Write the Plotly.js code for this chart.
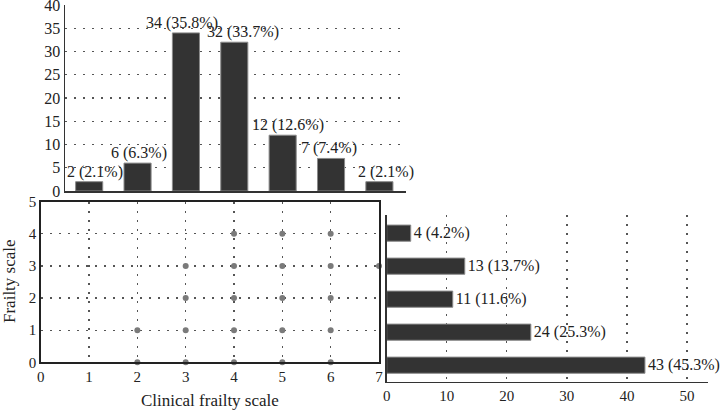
<!DOCTYPE html>
<html>
<head>
<meta charset="utf-8">
<script src="https://cdn.plot.ly/plotly-3.0.1.min.js"></script>
<style>
  body { margin: 0; background: #fff; }
  #grafico { width: 721px; height: 410px; }
</style>
</head>
<body>
<div id="grafico"></div>
<script>
// Clinical frailty scale (top histogram)
const cfsLevels = [1, 2, 3, 4, 5, 6, 7];
const cfsCounts = [2, 6, 34, 32, 12, 7, 2];
const cfsPercent = [2.1, 6.3, 35.8, 33.7, 12.6, 7.4, 2.1];

// Frailty scale (right histogram)
const fsLevels = [0, 1, 2, 3, 4];
const fsCounts = [43, 24, 11, 13, 4];
const fsPercent = [45.3, 25.3, 11.6, 13.7, 4.2];

// observed combinations (clinical frailty scale, frailty scale)
const pairCfs = [2, 3, 4, 5, 6, 2, 3, 4, 5, 6, 3, 4, 5, 6, 3, 4, 5, 6, 7, 4, 5, 6];
const pairFs  = [0, 0, 0, 0, 0, 1, 1, 1, 1, 1, 2, 2, 2, 2, 3, 3, 3, 3, 3, 4, 4, 4];

const W = 721, H = 410;
const px = v => v / W;
const py = v => 1 - v / H;

const serif = 'Liberation Serif';
const barFill = '#333333';
const dotGrid = '2px,7px';

const label = (n, p) => n + ' (' + p.toFixed(1) + '%)';

// small horizontal nudges of the top labels, as in the original figure
const topLabelShift = [6, 1, -4, 9, 5, -2, 7];

const data = [
    {
        x: cfsLevels,
        y: cfsCounts,
        type: 'bar',
        width: 0.56,
        xaxis: 'x',
        yaxis: 'y',
        marker: { color: barFill, line: { color: '#8a8a8a', width: 1 } },
        hoverinfo: 'skip'
    },
    {
        x: pairCfs,
        y: pairFs,
        type: 'scatter',
        mode: 'markers',
        xaxis: 'x2',
        yaxis: 'y2',
        cliponaxis: false,
        marker: { color: '#7a7a7a', size: 6 },
        hoverinfo: 'skip'
    },
    {
        x: fsCounts,
        y: fsLevels,
        type: 'bar',
        orientation: 'h',
        width: 0.49,
        xaxis: 'x3',
        yaxis: 'y3',
        marker: { color: barFill, line: { color: '#8a8a8a', width: 1 } },
        text: fsCounts.map((n, i) => label(n, fsPercent[i])),
        textposition: 'outside',
        constraintext: 'none',
        cliponaxis: false,
        textfont: { family: serif, size: 16, color: '#222' },
        hoverinfo: 'skip'
    }
];

const tickFont = { family: serif, size: 15, color: '#222' };

const topLabels = cfsLevels.map((lv, i) => ({
    text: label(cfsCounts[i], cfsPercent[i]),
    xref: 'x', yref: 'y',
    x: lv, y: cfsCounts[i],
    xanchor: 'center', yanchor: 'bottom',
    xshift: topLabelShift[i], yshift: 0,
    borderpad: 0,
    showarrow: false,
    font: { family: serif, size: 16, color: '#222' }
}));

const layout = {
    width: W,
    height: H,
    margin: { l: 0, r: 0, t: 0, b: 0 },
    showlegend: false,
    plot_bgcolor: '#fff',
    paper_bgcolor: '#fff',
    font: { family: serif, color: '#222' },
    xaxis: {
        domain: [px(65), px(406)],
        range: [0.5, 7.55],
        showticklabels: false,
        ticks: '',
        showgrid: false,
        zeroline: false,
        showline: true,
        linecolor: '#333',
        linewidth: 1.5,
        anchor: 'y'
    },
    yaxis: {
        domain: [py(191), py(5)],
        range: [0, 40],
        dtick: 5,
        ticks: '',
        tickfont: { family: serif, size: 16, color: '#222' },
        ticklabeloverflow: 'allow',
        showgrid: true,
        gridcolor: '#555',
        griddash: dotGrid,
        gridwidth: 1.3,
        zeroline: false,
        showline: true,
        linecolor: '#333',
        linewidth: 1.5,
        anchor: 'x'
    },
    xaxis2: {
        domain: [px(40.7), px(379)],
        range: [0, 7],
        dtick: 1,
        ticks: '',
        tickfont: tickFont,
        ticklabeloverflow: 'allow',
        showgrid: true,
        gridcolor: '#555',
        griddash: dotGrid,
        gridwidth: 1.3,
        zeroline: false,
        showline: true,
        mirror: true,
        linecolor: '#222',
        linewidth: 1.5,
        anchor: 'y2'
    },
    yaxis2: {
        domain: [py(362.3), py(201.7)],
        range: [0, 5],
        dtick: 1,
        ticks: '',
        tickfont: tickFont,
        ticklabeloverflow: 'allow',
        showgrid: true,
        gridcolor: '#555',
        griddash: dotGrid,
        gridwidth: 1.3,
        zeroline: false,
        showline: true,
        mirror: true,
        linecolor: '#222',
        linewidth: 1.5,
        anchor: 'x2'
    },
    xaxis3: {
        domain: [px(386.7), px(708)],
        range: [0, 53.5],
        dtick: 10,
        ticks: '',
        tickfont: tickFont,
        ticklabeloverflow: 'allow',
        showgrid: true,
        gridcolor: '#555',
        griddash: dotGrid,
        gridwidth: 1.3,
        zeroline: false,
        showline: true,
        linecolor: '#333',
        linewidth: 1.5,
        anchor: 'y3'
    },
    yaxis3: {
        domain: [py(381.7), py(215)],
        range: [-0.5, 4.55],
        showticklabels: false,
        ticks: '',
        showgrid: false,
        zeroline: false,
        showline: true,
        linecolor: '#333',
        linewidth: 1.5,
        anchor: 'x3'
    },
    annotations: topLabels.concat([
        {
            text: 'Clinical frailty scale',
            xref: 'paper', yref: 'paper',
            x: px(210), y: py(400),
            xanchor: 'center', yanchor: 'middle',
            showarrow: false,
            font: { family: serif, size: 17, color: '#222' }
        },
        {
            text: 'Frailty scale',
            xref: 'paper', yref: 'paper',
            x: px(9), y: py(281),
            xanchor: 'center', yanchor: 'middle',
            textangle: -90,
            showarrow: false,
            font: { family: serif, size: 17, color: '#222' }
        }
    ])
};

Plotly.newPlot('grafico', data, layout, { staticPlot: true });
</script>
</body>
</html>
